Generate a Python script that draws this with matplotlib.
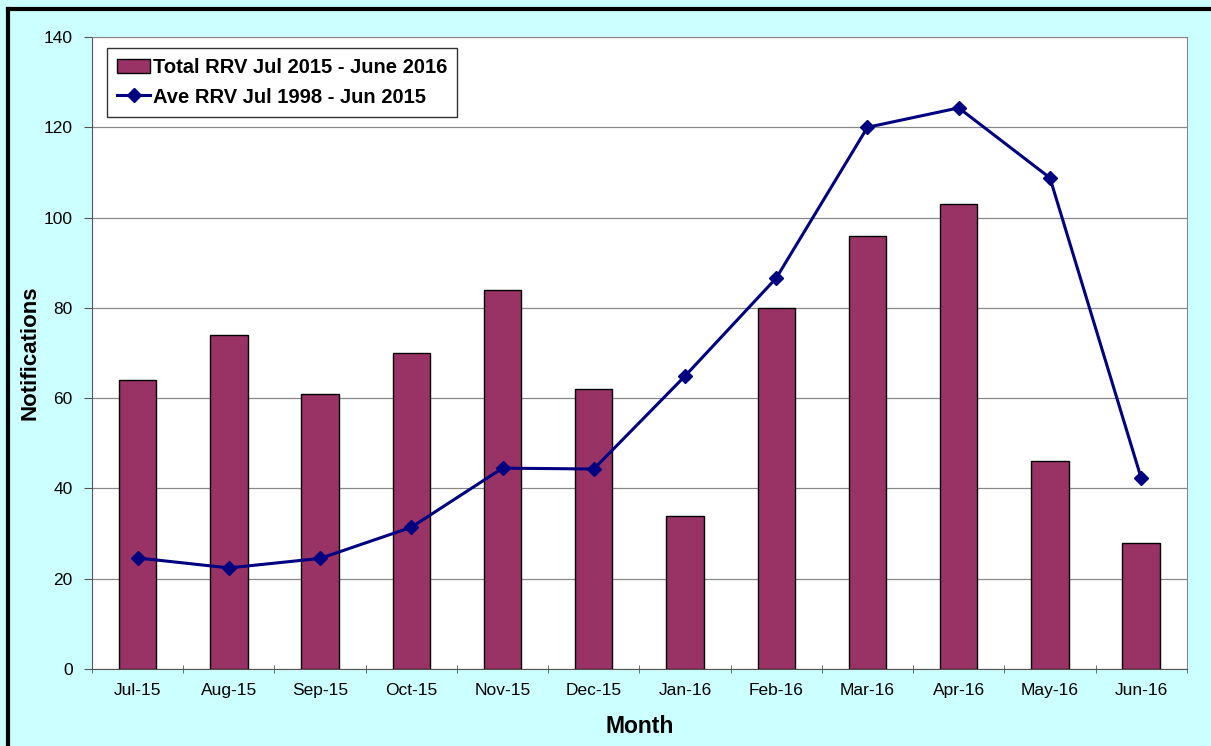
import matplotlib
matplotlib.use("Agg")
import matplotlib.pyplot as plt
import numpy as np
from matplotlib.lines import Line2D

plt.rcParams['font.family'] = ['Liberation Sans', 'DejaVu Sans']

months = ['Jul-15', 'Aug-15', 'Sep-15', 'Oct-15', 'Nov-15', 'Dec-15',
          'Jan-16', 'Feb-16', 'Mar-16', 'Apr-16', 'May-16', 'Jun-16']
total_rrv = [64, 74, 61, 70, 84, 62, 34, 80, 96, 103, 46, 28]
ave_rrv = [24.6, 22.4, 24.5, 31.4, 44.5, 44.3, 64.9, 86.6, 120.0, 124.3, 108.8, 42.3]

fig = plt.figure(figsize=(12.11, 7.46), dpi=100, facecolor='#CCFFFF')
ax = fig.add_axes([0.076, 0.1032, 0.904, 0.8472])

# outer black frame (top and left visible in the crop)
fig.add_artist(Line2D([8/1211, 1.0], [1 - 9/746, 1 - 9/746], color='black', lw=3,
                      transform=fig.transFigure))
fig.add_artist(Line2D([8/1211, 8/1211], [0.0, 1 - 9/746], color='black', lw=3,
                      transform=fig.transFigure))

x = np.arange(len(months))
bars = ax.bar(x, total_rrv, width=0.41, color='#993366', edgecolor='black', linewidth=1,
              label='Total RRV Jul 2015 - June 2016', zorder=3)
line, = ax.plot(x, ave_rrv, color='#000080', lw=2.2, marker='D', markersize=7.5,
                label='Ave RRV Jul 1998 - Jun 2015', zorder=4)

ax.set_xlim(-0.5, len(months) - 0.5)
ax.set_ylim(0, 140)
ax.set_yticks(range(0, 141, 20))
ax.set_xticks(x)
ax.set_xticklabels(months, fontsize=12.5)
ax.set_xticks(np.arange(-0.5, len(months), 1), minor=True)
ax.tick_params(axis='x', which='major', length=0, pad=10)
ax.tick_params(axis='x', which='minor', length=6, direction='inout', color='#555555')
ax.tick_params(axis='y', labelsize=12.5, length=6, direction='out', color='#555555', pad=8)
ax.grid(axis='y', color='#888888', lw=0.9, zorder=0)
for s in ax.spines.values():
    s.set_color('#888888')
ax.spines['bottom'].set_color('#555555')
ax.spines['left'].set_color('#555555')

ax.set_xlabel('Month', fontsize=16.5, fontweight='bold')
ax.xaxis.set_label_coords(0.5, -0.073)
ax.set_ylabel('Notifications', fontsize=16, fontweight='bold')
ax.yaxis.set_label_coords(-0.047, 0.5)

leg = ax.legend(handles=[bars, line], loc='upper left', bbox_to_anchor=(0.014, 0.982),
                fancybox=False, framealpha=1, edgecolor='#333333',
                prop={'weight': 'bold', 'size': 14.5},
                handlelength=1.6, handletextpad=0.15, borderpad=0.5, labelspacing=0.5,
                borderaxespad=0.0)
leg.get_frame().set_linewidth(1)

fig.savefig('out.png', dpi=100, facecolor=fig.get_facecolor())
